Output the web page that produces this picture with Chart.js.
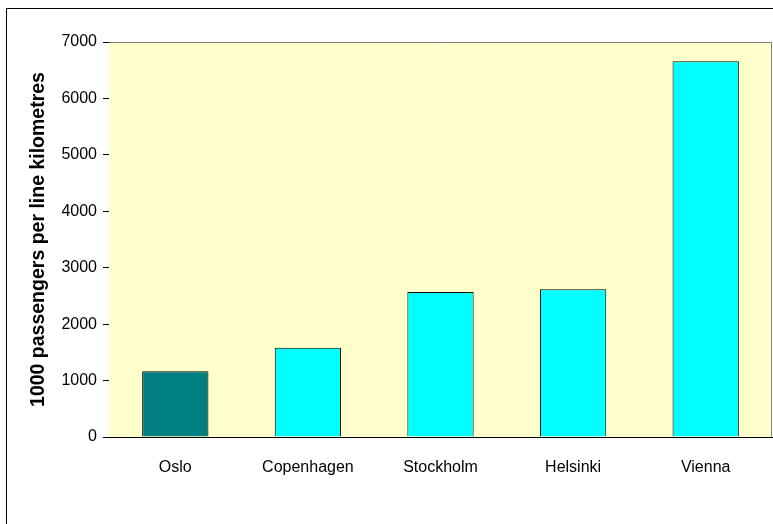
<!DOCTYPE html>
<html>
<head>
<meta charset="utf-8">
<script src="https://cdn.jsdelivr.net/npm/chart.js@4"></script>
<style>
  html, body { margin: 0; padding: 0; background: #fff; overflow: hidden; }
  canvas { display: block; }
</style>
</head>
<body>
<canvas id="myChart" width="773" height="524"></canvas>
<script>
const cities = ['Oslo', 'Copenhagen', 'Stockholm', 'Helsinki', 'Vienna'];
const passengers = [1165, 1580, 2570, 2620, 6660];
const barColors = ['#008080', '#00FFFF', '#00FFFF', '#00FFFF', '#00FFFF'];
const yTitle = '1000 passengers per line kilometres';

const fontFamily = '"Liberation Sans", Arial, sans-serif';

// pale plot background, grey frame, and the outer chart frame
const plotFrame = {
	id: 'plotFrame',
	beforeDatasetsDraw(chart) {
		const { ctx, chartArea: a } = chart;
		ctx.save();
		ctx.fillStyle = '#FFFFCC';
		ctx.fillRect(a.left, a.top, a.right - a.left, a.bottom - a.top);
		ctx.strokeStyle = '#808080';
		ctx.lineWidth = 1;
		ctx.beginPath();
		ctx.moveTo(a.left, a.top + 0.5);
		ctx.lineTo(a.right - 0.5, a.top + 0.5);
		ctx.lineTo(a.right - 0.5, a.bottom);
		ctx.stroke();
		ctx.restore();
	},
	afterDraw(chart) {
		const ctx = chart.ctx;
		ctx.save();
		ctx.strokeStyle = '#000';
		ctx.lineWidth = 1;
		ctx.strokeRect(6.5, 8.5, 1000, 1000);
		ctx.restore();
	}
};

let chart = new Chart('myChart', {
	type: 'bar',
	data: {
		labels: cities,
		datasets: [{
			data: passengers,
			backgroundColor: barColors,
			borderColor: '#000',
			borderWidth: 1,
			barPercentage: 0.5,
			categoryPercentage: 1.0
		}]
	},
	options: {
		responsive: false,
		animation: false,
		layout: {
			padding: { top: 42, right: 1, bottom: 0, left: 0 }
		},
		scales: {
			x: {
				grid: { display: false },
				border: { color: '#000', width: 1 },
				ticks: {
					color: '#000',
					padding: 13,
					font: { family: fontFamily, size: 16 }
				},
				afterFit(scale) { scale.height = 87; }
			},
			y: {
				min: 0,
				max: 7000,
				grid: {
					drawOnChartArea: false,
					drawTicks: true,
					tickLength: 6,
					color: '#000'
				},
				border: { color: '#000', width: 1 },
				ticks: {
					stepSize: 1000,
					color: '#000',
					padding: 6,
					font: { family: fontFamily, size: 16 },
					callback: (v) => String(v)
				},
				title: {
					display: true,
					text: yTitle,
					color: '#000',
					padding: { top: 27, bottom: 0 },
					font: { family: fontFamily, size: 19.5, weight: 'bold' }
				},
				afterFit(scale) { scale.width = 109; }
			}
		},
		plugins: {
			legend: { display: false },
			tooltip: { enabled: false }
		}
	},
	plugins: [plotFrame]
});
</script>
</body>
</html>
